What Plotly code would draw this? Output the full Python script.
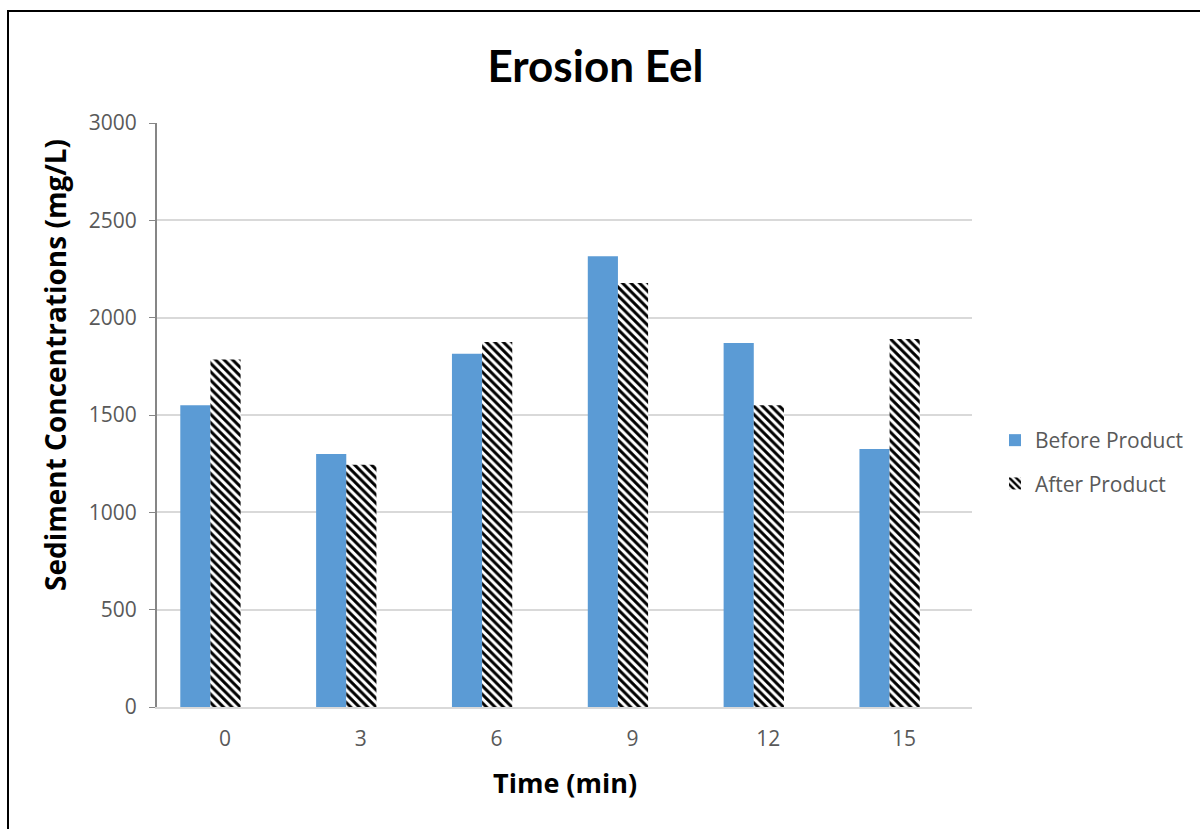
import plotly.graph_objects as go

categories = ["0", "3", "6", "9", "12", "15"]
before_product = [1550, 1300, 1815, 2315, 1870, 1325]
after_product = [1785, 1245, 1875, 2178, 1550, 1890]
y_ticks = [0, 500, 1000, 1500, 2000, 2500, 3000]

W, H = 1200, 829
L, R, T, B = 157, 228, 123, 122
pw, ph = W - L - R, H - T - B

def px_x(px):
    return (px - L) / pw

def px_y(py):
    return (H - B - py) / ph

FONT = "Open Sans"
GRAY = "#595959"
BAR_W = 0.222

fig = go.Figure()
fig.add_trace(go.Bar(
    name="Before Product", x=categories, y=before_product,
    width=BAR_W, offset=-1.48 * BAR_W, legendgroup="a",
    marker=dict(color="#5B9BD5", line=dict(width=0)),
))
fig.add_trace(go.Bar(
    name="After Product", x=categories, y=after_product,
    width=BAR_W, offset=-0.48 * BAR_W, legendgroup="b",
    marker=dict(color="white", line=dict(width=0),
                pattern=dict(shape="\\", fgcolor="black", bgcolor="white",
                             size=6, solidity=0.5, fgopacity=1,
                             fillmode="overlay")),
))

fig.update_layout(
    width=W, height=H,
    margin=dict(l=L, r=R, t=T, b=B, autoexpand=False),
    paper_bgcolor="white", plot_bgcolor="white",
    barmode="group",
    font=dict(family=FONT, color=GRAY, size=21),
    title=dict(text="<b>Erosion Eel</b>", x=595.5 / W, xanchor="center",
               y=1 - 67 / H, yanchor="middle", yref="container", xref="container",
               font=dict(family="Lato", size=44, color="black")),
    legend=dict(x=px_x(995), y=px_y(420), xanchor="left", yanchor="top",
                font=dict(family=FONT, size=21, color=GRAY),
                tracegroupgap=13, itemsizing="constant"),
    showlegend=True,
    xaxis=dict(showgrid=False, showline=True, linecolor="#D9D9D9", linewidth=2,
               ticks="", tickfont=dict(family=FONT, size=21, color=GRAY),
               ticklabelstandoff=12),
    yaxis=dict(range=[0, 3000], tickvals=y_ticks, showgrid=True,
               gridcolor="#D9D9D9", gridwidth=1.5, showline=True,
               linecolor="#868686", linewidth=2, ticks="outside", ticklen=6,
               tickcolor="#868686", zeroline=False, ticklabelstandoff=8,
               tickfont=dict(family=FONT, size=21, color=GRAY)),
    annotations=[
        dict(text="<b>Sediment Concentrations (mg/L)</b>", textangle=-90,
             x=px_x(55), y=px_y(365), xref="paper", yref="paper",
             xanchor="center", yanchor="middle",
             showarrow=False, font=dict(family=FONT, size=28, color="black")),
        dict(text="<b>Time (min)</b>",
             x=px_x(565), y=px_y(782), xref="paper", yref="paper",
             xanchor="center", yanchor="middle",
             showarrow=False, font=dict(family=FONT, size=27, color="black")),
    ],
    shapes=[dict(type="rect", xref="paper", yref="paper",
                 x0=px_x(8), x1=px_x(1210), y0=px_y(840), y1=px_y(11),
                 line=dict(color="black", width=2), fillcolor="rgba(0,0,0,0)",
                 layer="above")],
)

fig.write_html("out.html")
